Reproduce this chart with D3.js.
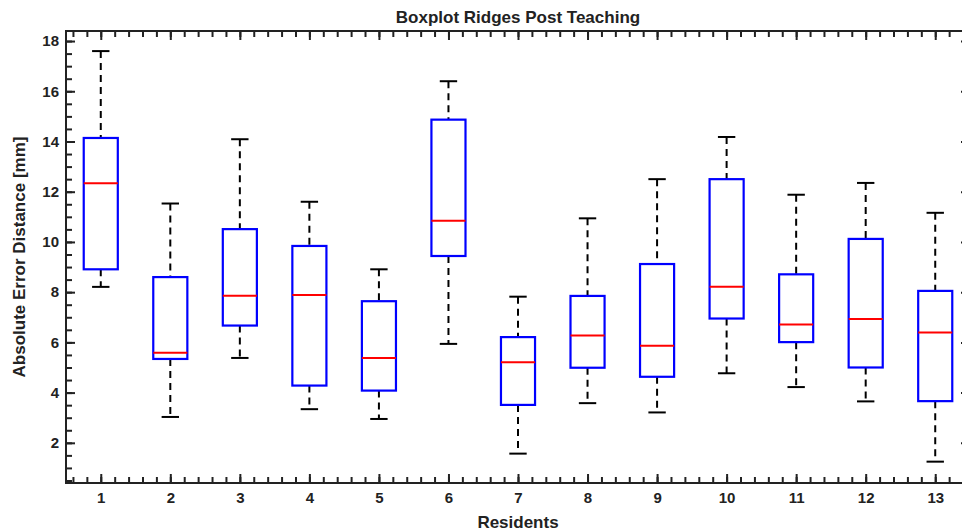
<!DOCTYPE html>
<html>
<head>
<meta charset="utf-8">
<script src="https://cdn.jsdelivr.net/npm/d3@7/dist/d3.min.js"></script>
<style>
  body { margin: 0; background: #fff; }
  svg { display: block; }
  text { font-family: "Liberation Sans", Arial, sans-serif; font-weight: bold; fill: #222; }
</style>
</head>
<body>
<svg id="chart" width="962" height="532"></svg>
<script>
// values
const residents = [1, 2, 3, 4, 5, 6, 7, 8, 9, 10, 11, 12, 13];
const whiskerHigh = [17.6, 11.53, 14.09, 11.6, 8.91, 16.4, 7.82, 10.94, 12.5, 14.18, 11.88, 12.35, 11.16];
const q3 = [14.14, 8.6, 10.51, 9.84, 7.64, 14.87, 6.21, 7.85, 9.12, 12.5, 8.71, 10.12, 8.05];
const medians = [12.34, 5.59, 7.86, 7.89, 5.38, 10.84, 5.21, 6.27, 5.87, 8.22, 6.71, 6.93, 6.39];
const q1 = [8.91, 5.34, 6.67, 4.28, 4.08, 9.44, 3.51, 4.99, 4.63, 6.95, 6.01, 5.0, 3.66];
const whiskerLow = [8.21, 3.03, 5.38, 3.34, 2.95, 5.94, 1.57, 3.58, 3.21, 4.77, 4.22, 3.65, 1.25];
const yMajor = [2, 4, 6, 8, 10, 12, 14, 16, 18];

(() => {
  const svg = d3.select('#chart');
  const pLeft = 66, pTop = 31, pRight = 970, pBottom = 483;

  const x = d3.scaleLinear().domain([0.5, 13.5]).range([pLeft, pRight]);
  const y = d3.scaleLinear().domain([0.4, 18.4]).range([pBottom, pTop]);

  let boxes = residents.map((r, i) => ({
    r: r, hi: whiskerHigh[i], q3: q3[i], med: medians[i], q1: q1[i], lo: whiskerLow[i]
  }));

  let xMinor = d3.range(0.6, 13.5, 0.2).map(d => +d.toFixed(1));
  let yMinor = d3.range(0.5, 18.4, 0.5);

  // minor ticks, all four sides, pointing inward
  svg.append('g').attr('transform', `translate(0,${pBottom})`)
    .call(d3.axisBottom(x).tickValues(xMinor).tickSize(-6).tickFormat(''));
  svg.append('g').attr('transform', `translate(0,${pTop})`)
    .call(d3.axisTop(x).tickValues(xMinor).tickSize(-6).tickFormat(''));
  svg.append('g').attr('transform', `translate(${pLeft},0)`)
    .call(d3.axisLeft(y).tickValues(yMinor).tickSize(-6).tickFormat(''));
  svg.append('g').attr('transform', `translate(${pRight},0)`)
    .call(d3.axisRight(y).tickValues(yMinor).tickSize(-6).tickFormat(''));

  // major ticks with labels
  svg.append('g').attr('transform', `translate(0,${pBottom})`)
    .call(d3.axisBottom(x).tickValues(residents).tickSize(-9).tickPadding(9).tickFormat(d3.format('d')));
  svg.append('g').attr('transform', `translate(0,${pTop})`)
    .call(d3.axisTop(x).tickValues(residents).tickSize(-9).tickFormat(''));
  svg.append('g').attr('transform', `translate(${pLeft},0)`)
    .call(d3.axisLeft(y).tickValues(yMajor).tickSize(-9).tickPadding(7).tickFormat(d3.format('d')));
  svg.append('g').attr('transform', `translate(${pRight},0)`)
    .call(d3.axisRight(y).tickValues(yMajor).tickSize(-9).tickFormat(''));

  svg.selectAll('.domain').remove();
  svg.selectAll('.tick line').attr('stroke', '#222').attr('stroke-width', 2);
  svg.selectAll('.tick text').style('font-size', '15px').attr('fill', '#222');

  // frame
  svg.append('rect')
    .attr('x', pLeft).attr('y', pTop)
    .attr('width', pRight - pLeft).attr('height', pBottom - pTop)
    .attr('fill', 'none').attr('stroke', '#222').attr('stroke-width', 2);

  let halfBox = (x(1.5) - x(1)) / 2 * 0.98;
  let halfCap = (x(1.25) - x(1)) / 2;

  let g = svg.append('g').selectAll('g').data(boxes).enter().append('g');

  // whiskers
  g.append('line')
    .attr('x1', d => x(d.r)).attr('x2', d => x(d.r))
    .attr('y1', d => y(d.hi)).attr('y2', d => y(d.q3))
    .attr('stroke', '#000').attr('stroke-width', 2).attr('stroke-dasharray', '7,5');
  g.append('line')
    .attr('x1', d => x(d.r)).attr('x2', d => x(d.r))
    .attr('y1', d => y(d.q1)).attr('y2', d => y(d.lo))
    .attr('stroke', '#000').attr('stroke-width', 2).attr('stroke-dasharray', '7,5');

  // caps
  g.append('line')
    .attr('x1', d => x(d.r) - halfCap).attr('x2', d => x(d.r) + halfCap)
    .attr('y1', d => y(d.hi)).attr('y2', d => y(d.hi))
    .attr('stroke', '#000').attr('stroke-width', 2);
  g.append('line')
    .attr('x1', d => x(d.r) - halfCap).attr('x2', d => x(d.r) + halfCap)
    .attr('y1', d => y(d.lo)).attr('y2', d => y(d.lo))
    .attr('stroke', '#000').attr('stroke-width', 2);

  // boxes
  g.append('rect')
    .attr('x', d => x(d.r) - halfBox).attr('width', halfBox * 2)
    .attr('y', d => y(d.q3)).attr('height', d => y(d.q1) - y(d.q3))
    .attr('fill', 'none').attr('stroke', '#0000ff').attr('stroke-width', 2.2);

  // medians
  g.append('line')
    .attr('x1', d => x(d.r) - halfBox).attr('x2', d => x(d.r) + halfBox)
    .attr('y1', d => y(d.med)).attr('y2', d => y(d.med))
    .attr('stroke', '#ff0000').attr('stroke-width', 2);

  // titles
  svg.append('text')
    .attr('x', (pLeft + pRight) / 2).attr('y', 23)
    .attr('text-anchor', 'middle').style('font-size', '17px')
    .text('Boxplot Ridges Post Teaching');

  svg.append('text')
    .attr('x', (pLeft + pRight) / 2).attr('y', 528)
    .attr('text-anchor', 'middle').style('font-size', '17px')
    .text('Residents');

  svg.append('text')
    .attr('transform', `translate(25,${(pTop + pBottom) / 2}) rotate(-90)`)
    .attr('text-anchor', 'middle').style('font-size', '17px')
    .text('Absolute Error Distance [mm]');
})();
</script>
</body>
</html>
